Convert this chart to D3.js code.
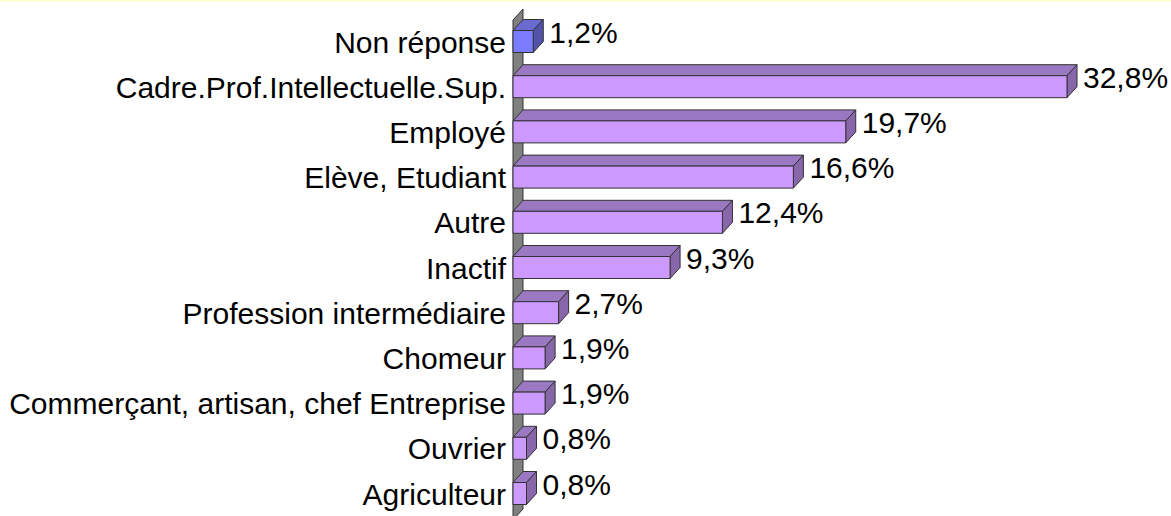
<!DOCTYPE html>
<html>
<head>
<meta charset="utf-8">
<script src="https://cdn.jsdelivr.net/npm/d3@7"></script>
<style>
  body { margin: 0; background: #fff; }
  text { font-family: "Liberation Sans", Arial, sans-serif; }
</style>
</head>
<body>
<script>
w = 1171;
h = 516;

var categories = ["Non réponse", "Cadre.Prof.Intellectuelle.Sup.", "Employé", "Elève, Etudiant",
  "Autre", "Inactif", "Profession intermédiaire", "Chomeur",
  "Commerçant, artisan, chef Entreprise", "Ouvrier", "Agriculteur"];
var values = [1.2, 32.8, 19.7, 16.6, 12.4, 9.3, 2.7, 1.9, 1.9, 0.8, 0.8];
var valueLabels = ["1,2%", "32,8%", "19,7%", "16,6%", "12,4%", "9,3%", "2,7%", "1,9%", "1,9%", "0,8%", "0,8%"];

var dataset = categories.map(function (c, i) {
  return { cat: c, value: values[i], label: valueLabels[i] };
});

var dx = 10, dy = -11, barH = 22;

var xScale = d3.scaleLinear()
  .domain([0, 32.8])
  .range([513, 1067]);

var yScale = d3.scalePoint()
  .domain(categories)
  .range([41.5, 493.5]);

var svg = d3.select("body")
  .append("svg")
  .attr("width", w)
  .attr("height", h);

svg.append("rect").attr("x", 0).attr("y", 0).attr("width", w).attr("height", 2).attr("fill", "#ffffd6");

// back wall
var x0 = xScale(0);
svg.append("polygon")
  .attr("points", [[x0, 20], [x0 + dx, 20 + dy], [x0 + dx, h + dy + 4], [x0, h + 4]].join(" "))
  .attr("fill", "#808080")
  .attr("stroke", "#333")
  .attr("stroke-width", 1);

var bars = svg.selectAll("g.bar")
  .data(dataset)
  .enter()
  .append("g")
  .attr("class", "bar");

function col(d, a, b) { return d.cat === "Non réponse" ? a : b; }

bars.each(function (d) {
  var g = d3.select(this);
  var x1 = xScale(d.value), yt = yScale(d.cat) - barH / 2, yb = yt + barH;
  // top face
  g.append("polygon")
    .attr("points", [[x0, yt], [x0 + dx, yt + dy], [x1 + dx, yt + dy], [x1, yt]].join(" "))
    .attr("fill", col(d, "#6a6ad0", "#9b79c2"));
  // side face
  g.append("polygon")
    .attr("points", [[x1, yt], [x1 + dx, yt + dy], [x1 + dx, yb + dy], [x1, yb]].join(" "))
    .attr("fill", col(d, "#5252a8", "#8866aa"));
  // front face
  g.append("rect")
    .attr("x", x0)
    .attr("y", yt)
    .attr("width", x1 - x0)
    .attr("height", barH)
    .attr("fill", col(d, "#7b7bff", "#cc99ff"));
  g.selectAll("polygon, rect")
    .attr("stroke", "#333")
    .attr("stroke-width", 1)
    .attr("stroke-linejoin", "round");
});

svg.selectAll("text.cat")
  .data(dataset)
  .enter()
  .append("text")
  .attr("class", "cat")
  .attr("x", 506)
  .attr("y", function (d) { return yScale(d.cat) + 11; })
  .attr("text-anchor", "end")
  .attr("font-size", 30)
  .attr("fill", "#000")
  .text(function (d) { return d.cat; });

svg.selectAll("text.val")
  .data(dataset)
  .enter()
  .append("text")
  .attr("class", "val")
  .attr("x", function (d) { return xScale(d.value) + dx + 6; })
  .attr("y", function (d) { return yScale(d.cat) + 1; })
  .attr("font-size", 30)
  .attr("fill", "#000")
  .text(function (d) { return d.label; });
</script>
</body>
</html>
